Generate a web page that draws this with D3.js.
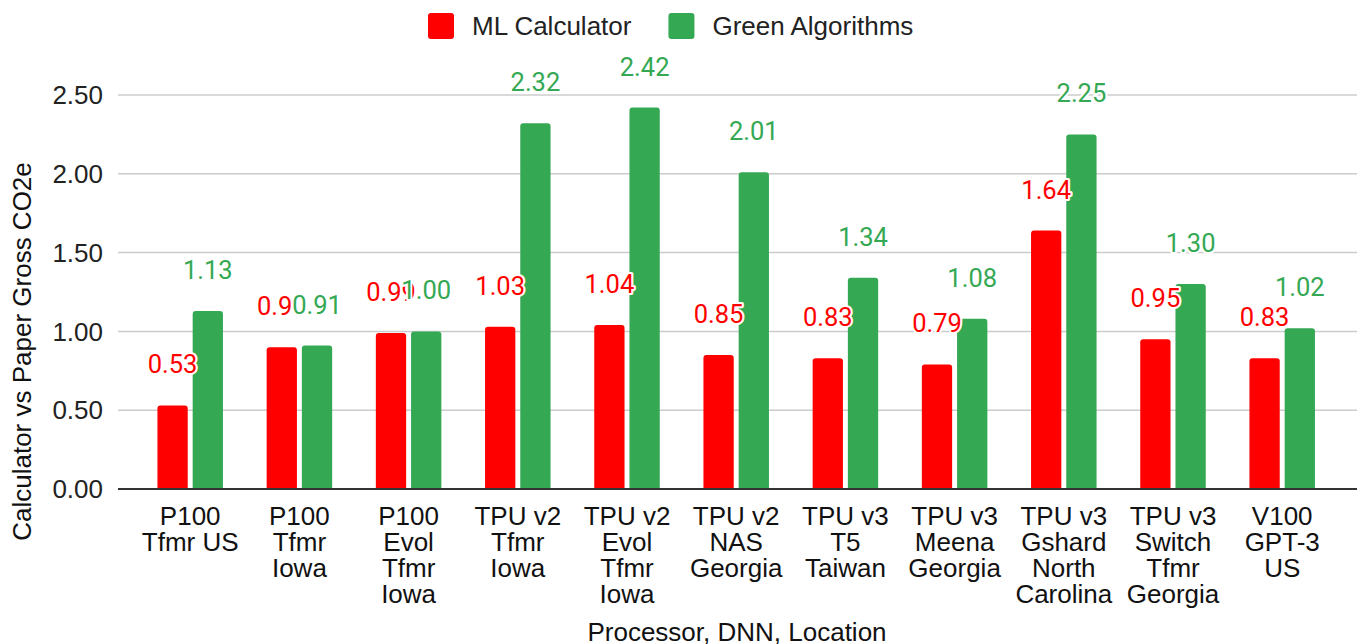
<!DOCTYPE html>
<html>
<head>
<meta charset="utf-8">
<script src="https://cdn.jsdelivr.net/npm/d3@7"></script>
<style>
  html, body { margin: 0; padding: 0; background: #fff; }
  svg { display: block; }
</style>
</head>
<body>
<svg id="chart" width="1359" height="644"></svg>
<script>
// ---- data ----
const categories = [
  "P100 Tfmr US", "P100 Tfmr Iowa", "P100 Evol Tfmr Iowa", "TPU v2 Tfmr Iowa",
  "TPU v2 Evol Tfmr Iowa", "TPU v2 NAS Georgia", "TPU v3 T5 Taiwan",
  "TPU v3 Meena Georgia", "TPU v3 Gshard North Carolina", "TPU v3 Switch Tfmr Georgia",
  "V100 GPT-3 US"
];
const categoryLines = [
  ["P100", "Tfmr US"],
  ["P100", "Tfmr", "Iowa"],
  ["P100", "Evol", "Tfmr", "Iowa"],
  ["TPU v2", "Tfmr", "Iowa"],
  ["TPU v2", "Evol", "Tfmr", "Iowa"],
  ["TPU v2", "NAS", "Georgia"],
  ["TPU v3", "T5", "Taiwan"],
  ["TPU v3", "Meena", "Georgia"],
  ["TPU v3", "Gshard", "North", "Carolina"],
  ["TPU v3", "Switch", "Tfmr", "Georgia"],
  ["V100", "GPT-3", "US"]
];
const seriesNames = ["ML Calculator", "Green Algorithms"];
const mlCalculator = [0.53, 0.90, 0.99, 1.03, 1.04, 0.85, 0.83, 0.79, 1.64, 0.95, 0.83];
const greenAlgorithms = [1.13, 0.91, 1.00, 2.32, 2.42, 2.01, 1.34, 1.08, 2.25, 1.30, 1.02];
const yTicks = [0, 0.5, 1.0, 1.5, 2.0, 2.5];
const colors = { "ML Calculator": "#ff0000", "Green Algorithms": "#34a853" };
const yTitle = "Calculator vs Paper Gross CO2e";
const xTitle = "Processor, DNN, Location";

// ---- layout ----
const svg = d3.select("#chart");
const axisFont = "'Liberation Sans', Arial, sans-serif";
const labelFont = "Roboto, 'Liberation Sans', sans-serif";
const fs = 26;
const lfs = 25.5;

const x = d3.scaleBand().domain(categories).range([135.6, 1336.8]).paddingInner(0.4).paddingOuter(0.2);
const xs = d3.scaleBand().domain(seriesNames).range([0, x.bandwidth()]).paddingInner(0.14);
const y = d3.scaleLinear().domain([0, 2.5]).range([489, 95]);

const gridX0 = 118, gridX1 = 1357;

// gridlines
svg.append("g").selectAll("line").data(yTicks.filter(t => t > 0)).join("line")
  .attr("x1", gridX0).attr("x2", gridX1)
  .attr("y1", d => y(d)).attr("y2", d => y(d))
  .attr("stroke", "#cccccc").attr("stroke-width", 1.5);

// y tick labels
svg.append("g").selectAll("text").data(yTicks).join("text")
  .attr("x", 103).attr("y", d => y(d)).attr("dy", "0.35em")
  .attr("text-anchor", "end")
  .attr("font-family", axisFont).attr("font-size", fs).attr("fill", "#222")
  .text(d => d3.format(".2f")(d));

// bars
const rows = categories.map((c, i) => ({ c, i, vals: [mlCalculator[i], greenAlgorithms[i]] }));
function barPath(x0, w, yTop, yBot, r) {
  r = Math.min(r, w / 2, (yBot - yTop));
  return `M${x0},${yBot}V${yTop + r}Q${x0},${yTop} ${x0 + r},${yTop}H${x0 + w - r}Q${x0 + w},${yTop} ${x0 + w},${yTop + r}V${yBot}Z`;
}
const groups = svg.append("g").selectAll("g").data(rows).join("g")
  .attr("transform", d => `translate(${x(d.c)},0)`);
groups.selectAll("path").data(d => seriesNames.map((s, k) => ({ s, v: d.vals[k] }))).join("path")
  .attr("d", d => barPath(xs(d.s), xs.bandwidth(), y(d.v), y(0), 3))
  .attr("fill", d => colors[d.s]);

// baseline
svg.append("line").attr("x1", gridX0).attr("x2", gridX1).attr("y1", y(0)).attr("y2", y(0))
  .attr("stroke", "#333").attr("stroke-width", 2);

// data labels: red first, then green on top (as in the original, overlapping labels overlap)
const labelLayer = svg.append("g");
seriesNames.forEach((s, k) => {
  const vals = k === 0 ? mlCalculator : greenAlgorithms;
  labelLayer.append("g").selectAll("text").data(vals).join("text")
    .attr("x", (v, i) => x(categories[i]) + xs(s) + xs.bandwidth() / 2)
    .attr("y", v => y(v) - 32)
    .attr("text-anchor", "middle")
    .attr("font-family", labelFont).attr("font-size", lfs)
    .attr("fill", colors[s])
    .attr("stroke", "#fff").attr("stroke-width", 4).attr("stroke-linejoin", "round")
    .attr("paint-order", "stroke")
    .text(v => d3.format(".2f")(v));
});

// x tick labels
const xl = svg.append("g").selectAll("text").data(rows).join("text")
  .attr("x", d => x(d.c) + x.bandwidth() / 2)
  .attr("y", 525)
  .attr("text-anchor", "middle")
  .attr("font-family", axisFont).attr("font-size", fs).attr("fill", "#111");
xl.selectAll("tspan").data(d => categoryLines[d.i]).join("tspan")
  .attr("x", function () { return d3.select(this.parentNode).attr("x"); })
  .attr("dy", (d, j) => j === 0 ? 0 : 26)
  .text(d => d);

// axis titles
svg.append("text")
  .attr("x", 737).attr("y", 641)
  .attr("text-anchor", "middle")
  .attr("font-family", axisFont).attr("font-size", fs).attr("fill", "#111")
  .text(xTitle);
svg.append("text")
  .attr("transform", `translate(31,351.5) rotate(-90)`)
  .attr("text-anchor", "middle")
  .attr("font-family", axisFont).attr("font-size", fs).attr("fill", "#111")
  .text(yTitle);

// legend
const legend = svg.append("g").attr("transform", "translate(428,26)");
let lx = 0;
seriesNames.forEach((s, k) => {
  const g = legend.append("g");
  g.append("rect").attr("x", lx).attr("y", -13).attr("width", 26).attr("height", 26)
    .attr("rx", 3).attr("fill", colors[s]);
  const t = g.append("text").attr("x", lx + 44).attr("y", 0).attr("dy", "0.35em")
    .attr("font-family", axisFont).attr("font-size", fs).attr("fill", "#222").text(s);
  lx += 44 + t.node().getComputedTextLength() + 37;
});
</script>
</body>
</html>
